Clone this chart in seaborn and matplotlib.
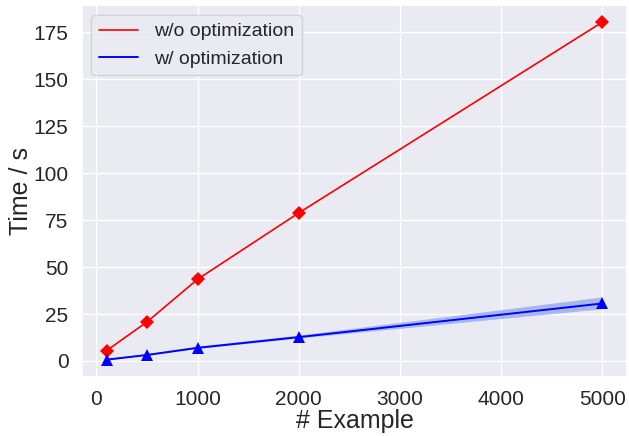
import matplotlib
matplotlib.use("Agg")
import matplotlib.pyplot as plt
import seaborn as sns
import pandas as pd
import numpy as np

examples = [100, 500, 1000, 2000, 5000]
time_wo = [5.5, 20.8, 43.5, 78.8, 180.3]
# three repeated runs of the optimized version per example count
time_w_runs = [
    [0.4, 0.7, 1.0],
    [2.8, 3.2, 3.6],
    [6.4, 7.0, 7.6],
    [11.9, 12.7, 13.5],
    [27.5, 30.5, 33.8],
]
label_wo = "w/o optimization"
label_w = "w/ optimization"

sns.set_theme(style="darkgrid")
plt.rcParams['font.family'] = ['Liberation Sans', 'DejaVu Sans']

rows = []
for x, runs in zip(examples, time_w_runs):
    for v in runs:
        rows.append({"Example": x, "Time": v})
df_w = pd.DataFrame(rows)
df_wo = pd.DataFrame({"Example": examples, "Time": time_wo})
mean_w = [float(np.mean(r)) for r in time_w_runs]

fig, ax = plt.subplots(figsize=(6.29, 4.36), dpi=100)
sns.lineplot(data=df_wo, x="Example", y="Time", color="red", lw=1.2,
             label=label_wo, ax=ax)
sns.lineplot(data=df_w, x="Example", y="Time", color="blue", lw=1.4,
             errorbar=("pi", 100), label=label_w, ax=ax)
band = ax.collections[-1]
band.set_alpha(1.0)
band.set_facecolor("#a7b7eb")
band.set_edgecolor("none")
band.set_linewidth(0)
ax.plot(examples, time_wo, linestyle="none", marker="D", color="red",
        markersize=7.5, markeredgewidth=0)
ax.plot(examples, mean_w, linestyle="none", marker="^", color="blue",
        markersize=9, markeredgewidth=0)

ax.set_xlabel("# Example", fontsize=18, labelpad=0)
ax.set_ylabel("Time / s", fontsize=18, labelpad=0)
ax.tick_params(labelsize=15)
ax.set_yticks([0, 25, 50, 75, 100, 125, 150, 175])
ax.set_xticks([0, 1000, 2000, 3000, 4000, 5000])
ax.legend(loc="upper left", fontsize=14)

fig.subplots_adjust(left=0.13, right=0.997, top=0.988, bottom=0.135)
fig.savefig("out.png", dpi=100)
